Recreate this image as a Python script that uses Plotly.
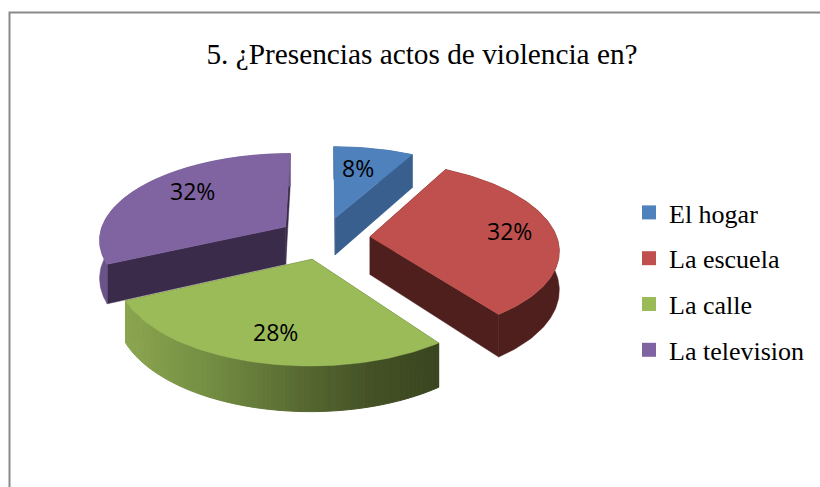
import numpy as np
import plotly.graph_objects as go

# Data
categories = ["El hogar", "La escuela", "La calle", "La television"]
values = [8, 32, 28, 32]
title_text = "5. ¿Presencias actos de violencia en?"

# Styles
top_colors = ["#4f81bd", "#c0504d", "#9bbb59", "#8064a2"]
face_colors = ["#395f8e", "#4e1f1d", "#3e4a20", "#3b2b4b"]
rim_colors = ["#395f8e", "#4e1f1d", None, "#6a5388"]
FONT = "Liberation Serif"
W, H = 820, 487

# Projection of the exploded 3D pie on the page
CX, CY, RX, RY = 324.0, 238.0, 187.0, 86.0
EXPLODE, PERSP, DEPTH = 0.247, 0.135, 38.0


def project(X, Y, z=0.0):
    f = 1.0 / (1.0 - PERSP * Y)
    return CX + RX * X * f, CY + RY * Y * f + z * f


def green_rim(x):
    stops_x = [120, 215, 300, 370, 440]
    stops = np.array([[142, 168, 82], [114, 140, 66], [88, 106, 50], [68, 82, 38], [58, 70, 32]])
    return "rgb(%d,%d,%d)" % tuple(np.interp(x, stops_x, stops[:, i]) for i in range(3))


def polygon(fig, xs, ys, color, width=0.5):
    fig.add_trace(go.Scatter(
        x=xs, y=ys, mode="lines", fill="toself", fillcolor=color,
        line=dict(color=color, width=width), hoverinfo="skip", showlegend=False))


fig = go.Figure()
total = sum(values)
ends = np.cumsum(values) / total * 2 * np.pi
starts = np.concatenate([[0.0], ends[:-1]])
for i in [0, 3, 1, 2]:  # back to front
    a0, a1 = starts[i], ends[i]
    mid = (a0 + a1) / 2
    ox, oy = EXPLODE * np.sin(mid), -EXPLODE * np.cos(mid)
    th = np.linspace(a0, a1, max(6, int((a1 - a0) / np.radians(1.2))))
    gx = ox + np.sin(th)
    gy = oy - np.cos(th)
    px, py = project(gx, gy)
    bx, by = project(gx, gy, DEPTH)
    ax, ay = project(ox, oy)
    abx, aby = project(ox, oy, DEPTH)

    # straight cut faces
    for j in (0, -1):
        polygon(fig, [ax, px[j], bx[j], abx, ax], [ay, py[j], by[j], aby, ay], face_colors[i])
    # curved rim
    if rim_colors[i]:
        polygon(fig, np.r_[px, bx[::-1], px[0]], np.r_[py, by[::-1], py[0]], rim_colors[i])
    else:
        for j in range(len(th) - 1):
            polygon(fig, [px[j], px[j + 1], bx[j + 1], bx[j], px[j]],
                    [py[j], py[j + 1], by[j + 1], by[j], py[j]],
                    green_rim((px[j] + px[j + 1]) / 2), width=1)
    # top face
    fig.add_trace(go.Scatter(
        x=np.r_[ax, px, ax], y=np.r_[ay, py, ay],
        mode="lines", fill="toself", fillcolor=top_colors[i],
        line=dict(color=top_colors[i], width=0.5),
        name=categories[i], hoverinfo="name", showlegend=False))

# Percentage labels
label_radius = [0.66, 0.72, 0.62, 0.72]
label_shift = [(-4, 2), (6, 2), (-3, -13), (11, 5)]
for i in range(4):
    mid = (starts[i] + ends[i]) / 2
    r = label_radius[i]
    lx, ly = project((EXPLODE + r) * np.sin(mid), -(EXPLODE + r) * np.cos(mid))
    fig.add_annotation(x=lx, y=ly, text=f"{values[i]}%", showarrow=False,
                       xshift=label_shift[i][0], yshift=label_shift[i][1],
                       font=dict(family="Open Sans", size=23, color="#000000"))

# Legend
for i in range(4):
    fig.add_trace(go.Scatter(
        x=[None], y=[None], mode="markers", name=categories[i], legendgroup=categories[i],
        marker=dict(symbol="square", size=14, color=top_colors[i])))

fig.update_layout(
    width=W, height=H, margin=dict(l=0, r=0, t=0, b=0),
    paper_bgcolor="#ffffff", plot_bgcolor="#ffffff",
    xaxis=dict(range=[0, W], visible=False, fixedrange=True),
    yaxis=dict(range=[H, 0], visible=False, fixedrange=True),
    title=dict(text=title_text, x=422 / W, xanchor="center", y=1 - 54 / H, yanchor="middle",
               font=dict(family=FONT, size=29.3, color="#000000")),
    legend=dict(x=629 / W, y=1 - 189 / H, xanchor="left", yanchor="top", tracegroupgap=9,
                font=dict(family=FONT, size=26, color="#000000"),
                bgcolor="rgba(0,0,0,0)", itemclick=False, itemdoubleclick=False),
    shapes=[dict(type="rect", xref="x", yref="y", x0=9.5, y0=12.5, x1=840, y1=510,
                 line=dict(color="#8a8a8a", width=2), fillcolor="rgba(0,0,0,0)", layer="below")],
)
fig.write_html("out.html", config={"displayModeBar": False},
               post_script="document.body.style.margin='0';document.documentElement.style.overflow='hidden';")
